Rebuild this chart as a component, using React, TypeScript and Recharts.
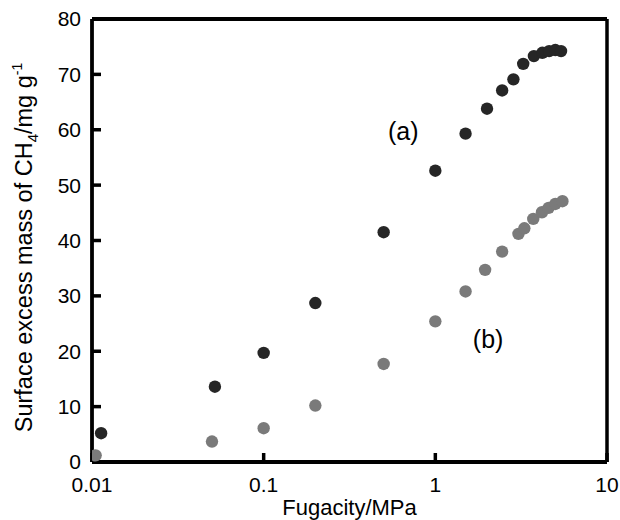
import React from "react";
import {
  ScatterChart,
  Scatter,
  XAxis,
  YAxis,
  ReferenceLine,
  ReferenceDot,
} from "recharts";

// Series (a): dark points
const fugacityA = [0.0113, 0.052, 0.1, 0.2, 0.5, 1.0, 1.5, 2.0, 2.45, 2.85, 3.25, 3.75, 4.2, 4.6, 5.0, 5.4];
const massA = [5.2, 13.6, 19.7, 28.7, 41.5, 52.6, 59.3, 63.8, 67.1, 69.1, 71.9, 73.3, 73.9, 74.2, 74.4, 74.2];

// Series (b): gray points
const fugacityB = [0.0105, 0.05, 0.1, 0.2, 0.5, 1.0, 1.5, 1.95, 2.45, 3.05, 3.3, 3.72, 4.18, 4.57, 5.0, 5.5];
const massB = [1.2, 3.7, 6.1, 10.2, 17.7, 25.4, 30.8, 34.7, 38.0, 41.2, 42.2, 43.9, 45.1, 45.9, 46.6, 47.1];

const xTicks = [0.01, 0.1, 1, 10];
const yTicks = [0, 10, 20, 30, 40, 50, 60, 70, 80];

const seriesLabels = [
  { text: "(a)", x: 0.65, y: 59.8 },
  { text: "(b)", x: 2.03, y: 22.2 },
];

const dataA = fugacityA.map((x, i) => ({ x, y: massA[i] }));
const dataB = fugacityB.map((x, i) => ({ x, y: massB[i] }));

const FONT = "'Liberation Sans', Arial, sans-serif";
const DARK = "#262626";
const GRAY = "#7a7a7a";

const dot = (color: string) => (props: any) => {
  const { cx, cy } = props;
  if (cx == null || cy == null) return <g />;
  return <circle cx={cx} cy={cy} r={6.2} fill={color} />;
};

const XTick = (props: any) => {
  const { x, y, payload } = props;
  return (
    <text x={x} y={y} dy="0.71em" textAnchor="middle" fontFamily={FONT} fontSize={21} fill="#000">
      {String(payload.value)}
    </text>
  );
};

const YTick = (props: any) => {
  const { x, y, payload } = props;
  return (
    <text x={x} y={y} dy="0.355em" textAnchor="end" fontFamily={FONT} fontSize={21} fill="#000">
      {String(payload.value)}
    </text>
  );
};

const YLabel = (props: any) => {
  const vb = props.viewBox || {};
  const cx = vb.x;
  const cy = vb.y + vb.height / 2 + 7;
  return (
    <text
      x={cx}
      y={cy}
      transform={`rotate(-90, ${cx}, ${cy})`}
      textAnchor="middle"
      fontFamily={FONT}
      fontSize={23.5}
      fill="#000"
    >
      Surface excess mass of CH
      <tspan dy={6} fontSize={15}>4</tspan>
      <tspan dy={-6}>/mg g</tspan>
      <tspan dy={-10} fontSize={14}>-1</tspan>
    </text>
  );
};

const XLabel = (props: any) => {
  const vb = props.viewBox || {};
  const cx = vb.x + vb.width / 2;
  return (
    <text
      x={cx}
      y={vb.y + 53}
      textAnchor="middle"
      fontFamily={FONT}
      fontSize={22}
      fill="#000"
    >
      Fugacity/MPa
    </text>
  );
};

const textShape = (text: string) => (props: any) => {
  const { cx, cy } = props;
  return (
    <text
      x={cx}
      y={cy}
      textAnchor="middle"
      dominantBaseline="central"
      fontFamily={FONT}
      fontSize={25}
      fill="#000"
    >
      {text}
    </text>
  );
};

export default function App() {
  return (
    <div
      style={{
        position: "absolute",
        left: 0,
        top: 0,
        width: 620,
        height: 520,
        fontFamily: FONT,
        background: "#fff",
      }}
    >
      <ScatterChart
        width={620}
        height={520}
        margin={{ top: 19, right: 13, left: 32, bottom: 18 }}
      >
        <XAxis
          type="number"
          dataKey="x"
          scale="log"
          domain={[0.01, 10]}
          ticks={xTicks}
          allowDataOverflow
          height={40}
          tickSize={-9}
          tickMargin={24}
          tick={<XTick />}
          axisLine={{ stroke: "#000", strokeWidth: 3.8 }}
          tickLine={{ stroke: "#000", strokeWidth: 3.5 }}
          label={<XLabel />}
        />
        <YAxis
          type="number"
          dataKey="y"
          domain={[0, 80]}
          ticks={yTicks}
          allowDataOverflow
          width={60}
          tickSize={-9}
          tickMargin={20}
          tick={<YTick />}
          axisLine={{ stroke: "#000", strokeWidth: 3.8 }}
          tickLine={{ stroke: "#000", strokeWidth: 3.5 }}
          label={<YLabel />}
        />
        <ReferenceLine y={80} stroke="#000" strokeWidth={3.8} />
        <ReferenceLine x={10} stroke="#000" strokeWidth={3.5} />
        <Scatter
          name="(b)"
          data={dataB}
          fill={GRAY}
          shape={dot(GRAY)}
          isAnimationActive={false}
        />
        <Scatter
          name="(a)"
          data={dataA}
          fill={DARK}
          shape={dot(DARK)}
          isAnimationActive={false}
        />
        {seriesLabels.map((l) => (
          <ReferenceDot
            key={l.text}
            x={l.x}
            y={l.y}
            r={0}
            shape={textShape(l.text)}
          />
        ))}
      </ScatterChart>
    </div>
  );
}
